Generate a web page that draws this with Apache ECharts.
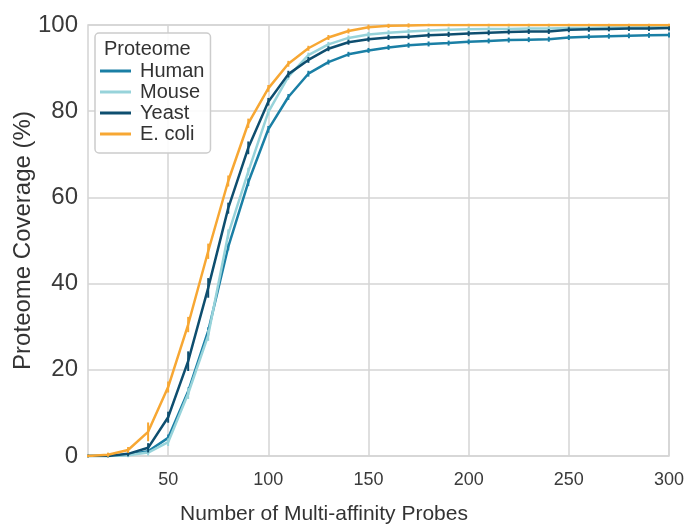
<!DOCTYPE html>
<html>
<head>
<meta charset="utf-8">
<script src="https://cdn.jsdelivr.net/npm/echarts@6/dist/echarts.min.js"></script>
<style>html,body{margin:0;padding:0;background:#fff}#c{width:691px;height:525px}</style>
</head>
<body>
<div id="c"></div>
<script>
const probes = [10,20,30,40,50,60,70,80,90,100,110,120,130,140,150,160,170,180,190,200,210,220,230,240,250,260,270,280,290,300];
const human = [0,0,0.3,1.1,4.2,15,29,48.5,63.5,75.8,83.3,88.7,91.4,93.2,94.1,94.8,95.3,95.6,95.8,96.1,96.3,96.5,96.6,96.7,97.1,97.3,97.4,97.5,97.6,97.7];
const mouse = [0,0,0.2,0.8,3.2,14.5,28,51.5,66,79.8,88,93,95.5,97,97.8,98.2,98.5,98.7,98.9,99,99.1,99.1,99.2,99.2,99.3,99.3,99.4,99.4,99.5,99.5];
const yeast = [0,0,0.5,1.9,9,22,39,57.5,71.5,82.2,88.6,91.9,94.5,96,96.7,97.1,97.3,97.6,97.8,98,98.2,98.4,98.5,98.5,98.9,99,99.1,99.2,99.2,99.3];
const ecoli = [0,0.3,1.4,5.6,16,30.5,47.5,63.8,77.2,85.3,91,94.6,97.1,98.6,99.5,99.8,99.9,100,100,100,100,100,100,100,100,100,100,100,100,100];
const humanErr = [0,0,0.2,0.3,0.5,0.6,0.6,0.5,0.6,0.5,0.4,0.4,0.3,0.3,0.3,0.3,0.3,0.3,0.3,0.3,0.3,0.3,0.3,0.3,0.3,0.3,0.3,0.3,0.3,0.3];
const mouseErr = [0,0,0.2,0.4,0.6,1,1,0.8,0.6,0.5,0.4,0.3,0.3,0.3,0.3,0.3,0.3,0.3,0.3,0.3,0.3,0.3,0.3,0.3,0.3,0.3,0.3,0.3,0.3,0.3];
const yeastErr = [0,0,0.3,0.8,1,2,2,1,1.2,0.6,0.5,0.4,0.3,0.3,0.3,0.3,0.3,0.3,0.3,0.3,0.3,0.3,0.3,0.3,0.3,0.3,0.3,0.3,0.3,0.3];
const ecoliErr = [0,0.2,0.4,1.9,1,1.5,1.5,1,0.8,0.5,0.4,0.3,0.3,0.3,0.3,0.2,0.2,0,0,0,0,0,0,0,0,0,0,0,0,0];
const xTicks = [50,100,150,200,250,300];
const seriesNames = ['Human','Mouse','Yeast','E. coli'];
const colors = ['#1a7fa5','#97d3da','#0e4e6f','#f7a733'];

const values = [human, mouse, yeast, ecoli];
const errs = [humanErr, mouseErr, yeastErr, ecoliErr];

const series = [];
values.forEach((v, i) => {
  series.push({
    name: seriesNames[i], type: 'line', data: probes.map((p, k) => [p, v[k]]),
    showSymbol: false, lineStyle: { width: 2.5, color: colors[i] }, itemStyle: { color: colors[i] },
    z: 2 + i * 2, animation: false
  });
  series.push({
    name: seriesNames[i] + ' err', type: 'custom', z: 3 + i * 2, animation: false,
    data: probes.map((p, k) => [p, v[k], errs[i][k]]),
    renderItem: (params, api) => {
      const x = api.value(0), y = api.value(1), e = api.value(2);
      const a = api.coord([x, y - e]), b = api.coord([x, y + e]);
      return { type: 'line', shape: { x1: a[0], y1: a[1] + 1.2, x2: b[0], y2: b[1] - 1.2 },
        style: { stroke: colors[i], lineWidth: 2 } };
    }
  });
});

const chart = echarts.init(document.getElementById('c'), null, { renderer: 'canvas' });
chart.setOption({
  backgroundColor: '#ffffff',
  animation: false,
  grid: { left: 88, right: 22, top: 25, bottom: 69, outerBoundsMode: 'none', containLabel: false, show: true, borderColor: '#d4d4d4', borderWidth: 1.5, backgroundColor: 'transparent' },
  xAxis: {
    type: 'value', min: 10, max: 300,
    name: 'Number of Multi-affinity Probes', nameLocation: 'middle', nameGap: 48,
    nameTextStyle: { fontFamily: 'Liberation Sans', fontSize: 21, color: '#333', padding: [0, 109, 0, 0] },
    axisLine: { show: false },
    axisTick: { show: false, customValues: xTicks },
    axisLabel: { customValues: xTicks, fontFamily: 'Liberation Sans', fontSize: 18, color: '#3a3a3a', margin: 15 },
    splitLine: { show: true, lineStyle: { color: '#d4d4d4', width: 1.5 } }
  },
  yAxis: {
    type: 'value', min: 0, max: 100, interval: 20,
    name: 'Proteome Coverage (%)', nameLocation: 'middle', nameGap: 53, nameMoveOverlap: false,
    nameTextStyle: { fontFamily: 'Liberation Sans', fontSize: 24, color: '#333' },
    axisLine: { show: false }, axisTick: { show: false },
    axisLabel: { fontFamily: 'Liberation Sans', fontSize: 24, color: '#3a3a3a', margin: 10 },
    splitLine: { show: true, lineStyle: { color: '#d4d4d4', width: 1.5 } }
  },
  legend: {
    data: seriesNames, orient: 'vertical', left: 95, top: 33,
    padding: [28, 6, 9, 5], itemGap: 1, itemWidth: 31, itemHeight: 3, icon: 'rect',
    backgroundColor: 'rgba(255,255,255,0.9)', borderColor: '#cccccc', borderWidth: 1.5, borderRadius: 4,
    textStyle: { fontFamily: 'Liberation Sans', fontSize: 20, color: '#333', lineHeight: 20, padding: [0, 0, 0, 4] }
  },
  graphic: [{
    type: 'text', left: 104, top: 39, z: 100,
    style: { text: 'Proteome', fontFamily: 'Liberation Sans', fontSize: 20, fill: '#333' }
  }],
  series: series
});
</script>
</body>
</html>
